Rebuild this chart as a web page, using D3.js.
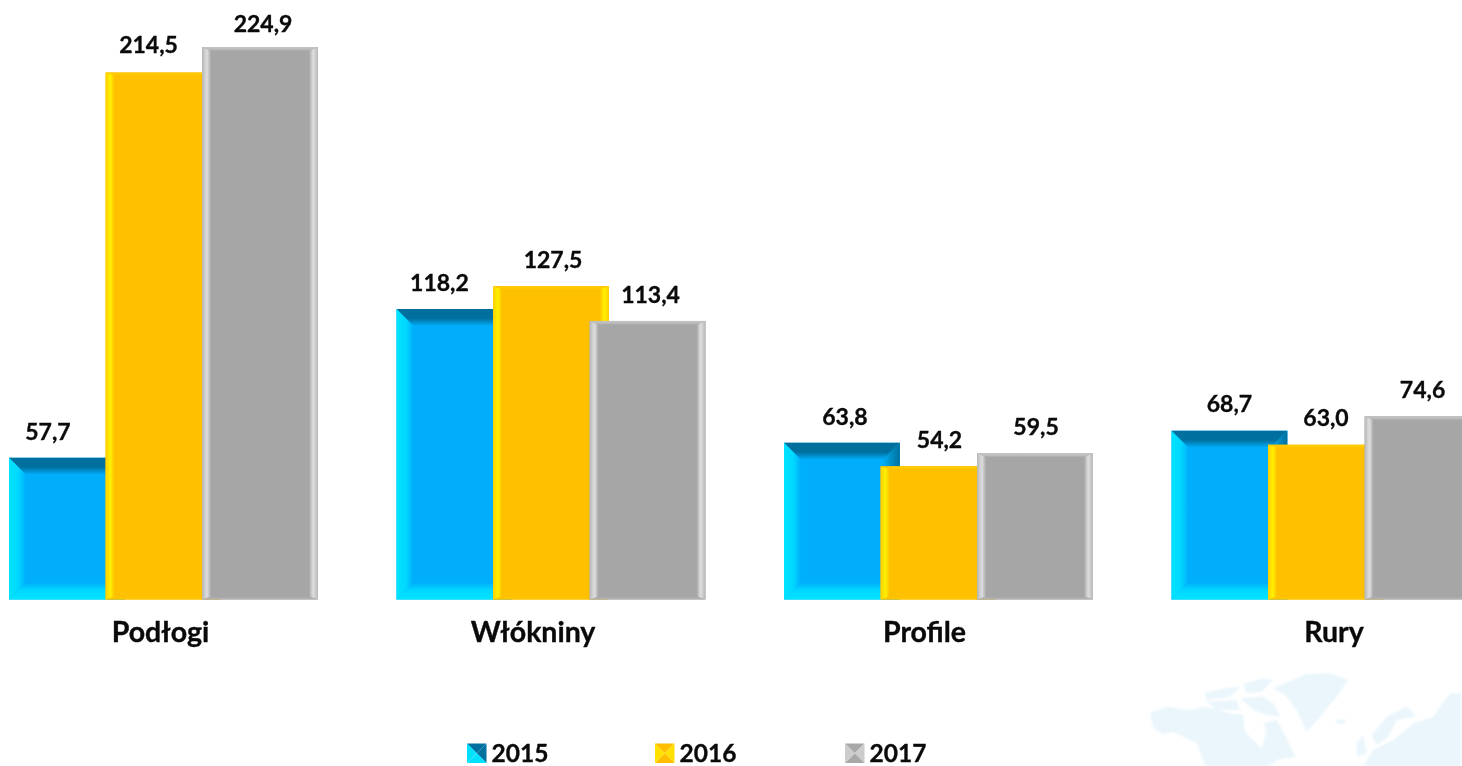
<!DOCTYPE html>
<html>
<head>
<meta charset="utf-8">
<script src="https://cdn.jsdelivr.net/npm/d3@7"></script>
<style>
  html, body { margin: 0; padding: 0; background: #fff; overflow: hidden; }
  text { font-family: Lato, "Open Sans", sans-serif; font-weight: 700; fill: #0a0a0a; stroke: #0a0a0a; stroke-width: 0.35px; }
</style>
</head>
<body>
<div id="chart"></div>
<script>
// chart values
var categories = ["Podłogi", "Włókniny", "Profile", "Rury"];
var years = ["2015", "2016", "2017"];
var values2015 = [57.7, 118.2, 63.8, 68.7];
var values2016 = [214.5, 127.5, 54.2, 63.0];
var values2017 = [224.9, 113.4, 59.5, 74.6];
var seriesValues = [values2015, values2016, values2017];

// bevel look of each series: [top, right, bottom, left] size, and colour stops outer -> inner
var looks = [
    { size: [17, 17, 17, 17], base: "#00aefb",
      top: ["#006f9e", "#00709f", "#00aefb"], right: ["#00709f", "#0090c8", "#00aefb"],
      bottom: ["#00e4ff", "#00d8ff", "#00aefb"], left: ["#00e4ff", "#00d8ff", "#00aefb"],
      swatch: ["#00709f", "#00709f", "#00e0ff", "#00e0ff"] },
    { size: [3, 9, 3, 9], base: "#ffc000",
      top: ["#ffc400", "#ffcc00", "#ffc000"], right: ["#ffd000", "#fff000", "#ffc000"],
      bottom: ["#ffc000", "#ffc400", "#ffc000"], left: ["#ffd000", "#fff000", "#ffc000"],
      swatch: ["#ffbe00", "#ffe000", "#ffbe00", "#ffe000"] },
    { size: [4, 9, 3, 9], base: "#a6a6a6",
      top: ["#c4c4c4", "#bcbcbc", "#a6a6a6"], right: ["#b8b8b8", "#dedede", "#a6a6a6"],
      bottom: ["#b4b4b4", "#aeaeae", "#a6a6a6"], left: ["#b8b8b8", "#dedede", "#a6a6a6"],
      swatch: ["#a8a8a8", "#cccccc", "#a8a8a8", "#cccccc"] }
];

// hand placed labels in the original: [x shift, lift above bar] per category and series
var categoryShift = [-3, -18, -14, 8];
var labelShift = [[-19, -15, 3], [-15, 2, 3], [3, 1, 1], [0, 0, 0]];
var labelLift = [[18, 20, 15], [18, 18, 18], [18, 18, 18], [19, 19, 18]];

var width = 1462, height = 766, baseline = 599.5;

var svg = d3.select("#chart").append("svg")
    .attr("width", width)
    .attr("height", height)
    .style("display", "block")
    .style("filter", "blur(0.45px)");

var defs = svg.append("defs");
defs.append("filter").attr("id", "soft")
    .append("feGaussianBlur").attr("stdDeviation", 3);

// world map watermark, bottom right corner
var mapShapes = [
    "M60,160 L110,140 L180,150 L225,140 L300,160 L340,165 L345,215 L395,265 L410,210 L400,190 L440,180 L465,225 L490,280 L500,290 L440,300 L420,318 L225,318 L200,250 L130,215 L100,222 L70,205 Z",
    "M225,100 L280,85 L330,80 L300,110 L230,120 Z",
    "M230,125 L320,120 L330,150 L260,150 Z",
    "M340,72 L400,55 L430,60 L395,95 L350,100 Z",
    "M330,115 L400,110 L430,130 L450,170 L410,165 L370,150 Z",
    "M430,85 L530,42 L600,40 L655,60 L620,110 L570,170 L530,215 L500,150 L470,110 Z",
    "M615,180 L650,178 L640,192 L620,190 Z",
    "M680,250 L700,225 L710,280 L680,290 Z",
    "M725,225 L770,170 L830,140 L860,170 L800,180 L775,230 L740,255 Z",
    "M700,318 L730,270 L790,240 L850,190 L910,170 L960,100 L995,100 L995,318 Z"
];
var map = svg.append("g").attr("transform", "translate(1130,660) scale(0.3333)");
map.append("g").attr("filter", "url(#soft)").selectAll("path").data(mapShapes).join("path")
    .attr("d", function (d) { return d; })
    .attr("fill", "#eaf6fc");

// scales
var x0 = d3.scaleBand()
    .domain(categories)
    .range([9, 9 + 387.5 * 3 + 309])
    .paddingInner(78.5 / 387.5)
    .paddingOuter(0);

var x1 = d3.scaleBand()
    .domain(years)
    .range([0, x0.bandwidth() * 0.9375]);

var barWidth = x1.bandwidth() * 1.2; // bars overlap each other

var y = d3.scaleLinear()
    .domain([0, 224.9])
    .range([baseline, 47]);

// gradients, one per side of each series
function addGradient(id, stops, x1g, y1g, x2g, y2g) {
    var g = defs.append("linearGradient").attr("id", id)
        .attr("x1", x1g).attr("y1", y1g).attr("x2", x2g).attr("y2", y2g);
    [0, 0.55, 1].forEach(function (o, i) {
        g.append("stop").attr("offset", o).attr("stop-color", stops[i]);
    });
}
looks.forEach(function (l, i) {
    addGradient("top" + i, l.top, 0, 0, 0, 1);
    addGradient("right" + i, l.right, 1, 0, 0, 0);
    addGradient("bottom" + i, l.bottom, 0, 1, 0, 0);
    addGradient("left" + i, l.left, 0, 0, 1, 0);
});

function poly(pts) {
    return pts.map(function (p) { return p.join(","); }).join(" ");
}

// one bevelled bar
function drawBar(g, i, bx, by, bw, bh) {
    var l = looks[i];
    var t = Math.min(l.size[0], bh / 2), r = l.size[1], b = Math.min(l.size[2], bh / 2), le = l.size[3];
    var x2 = bx + bw, y2 = by + bh;
    g.append("rect").attr("x", bx).attr("y", by).attr("width", bw).attr("height", bh).attr("fill", l.base);
    g.append("polygon").attr("fill", "url(#top" + i + ")")
        .attr("points", poly([[bx, by], [x2, by], [x2 - r, by + t], [bx + le, by + t]]));
    g.append("polygon").attr("fill", "url(#right" + i + ")")
        .attr("points", poly([[x2, by], [x2, y2], [x2 - r, y2 - b], [x2 - r, by + t]]));
    g.append("polygon").attr("fill", "url(#bottom" + i + ")")
        .attr("points", poly([[bx, y2], [x2, y2], [x2 - r, y2 - b], [bx + le, y2 - b]]));
    g.append("polygon").attr("fill", "url(#left" + i + ")")
        .attr("points", poly([[bx, by], [bx, y2], [bx + le, y2 - b], [bx + le, by + t]]));
}

// bars
categories.forEach(function (cat, c) {
    var group = svg.append("g").attr("class", "group");
    years.forEach(function (yr, s) {
        var v = seriesValues[s][c];
        drawBar(group, s, x0(cat) + x1(yr), y(v), barWidth, y(0) - y(v));
    });
});

// data labels on top of all bars
categories.forEach(function (cat, c) {
    years.forEach(function (yr, s) {
        var v = seriesValues[s][c];
        svg.append("text")
            .attr("x", x0(cat) + x1(yr) + barWidth / 2 + labelShift[c][s])
            .attr("y", y(v) - labelLift[c][s])
            .attr("text-anchor", "middle")
            .style("font-size", "23px")
            .text(d3.format(".1f")(v).replace(".", ","));
    });
});

// category axis
var axis = svg.append("g")
    .attr("transform", "translate(0," + baseline + ")")
    .call(d3.axisBottom(x0).tickSize(0).tickPadding(22));
axis.select(".domain").remove();
axis.selectAll("text")
    .style("font-size", "28.5px")
    .attr("dx", function (d, i) { return categoryShift[i]; });

// legend
var legendX = d3.scaleOrdinal().domain(years).range([467, 655, 845]);
var swatchSize = 19.5, legendTop = 743.5;
years.forEach(function (yr, i) {
    var lx = legendX(yr), c = looks[i].swatch, m = swatchSize / 2;
    var g = svg.append("g").attr("transform", "translate(" + lx + "," + legendTop + ")");
    var corners = [[0, 0], [swatchSize, 0], [swatchSize, swatchSize], [0, swatchSize]];
    corners.forEach(function (p, k) {
        g.append("polygon")
            .attr("points", poly([p, corners[(k + 1) % 4], [m, m]]))
            .attr("fill", c[k]);
    });
    g.append("text")
        .attr("x", swatchSize + 5)
        .attr("y", swatchSize - 1)
        .style("font-size", "24.5px")
        .text(yr);
});
</script>
</body>
</html>
